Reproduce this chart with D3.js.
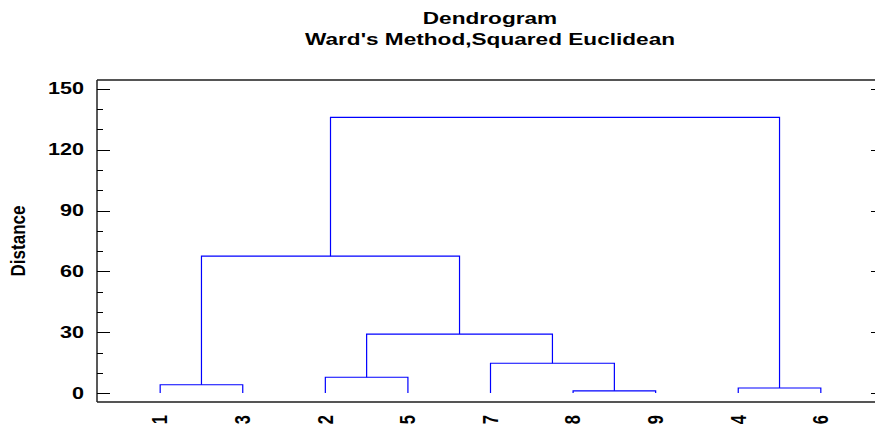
<!DOCTYPE html>
<html><head><meta charset="utf-8">
<script src="https://cdn.jsdelivr.net/npm/d3@7"></script>
<style>
body{margin:0;background:#fff;}
text{font-family:"Liberation Sans",Arial,sans-serif;font-weight:bold;fill:#000;}
</style></head>
<body><svg id="c" width="875" height="425"></svg>
<script>
const titleLines = ["Dendrogram", "Ward's Method,Squared Euclidean"];
const yLabel = "Distance";
const leaves = ["1","3","2","5","7","8","9","4","6"];
// merges: [childA, childB, height]; "mN" refers to merge index N
const merges = [
  ["1","3",4.1],
  ["2","5",7.8],
  ["8","9",1.1],
  ["7","m2",14.7],
  ["m1","m3",29.1],
  ["m0","m4",67.5],
  ["4","6",2.5],
  ["m5","m6",136]
];
const yTicks = [0,30,60,90,120,150];
const yMinor = [10,20,40,50,70,80,100,110,130,140];

const svg = d3.select("#c");
const L = 97, R = 884, T = 80, B = 402;
const x = d3.scalePoint().domain(leaves).range([L, R]).padding(0.765);
const y = d3.scaleLinear().domain([-4.4, 154.4]).range([B, T]);

// titles
svg.append("text").attr("transform","translate(490,24) scale(1.33,1)")
  .attr("text-anchor","middle").style("font-size","17px").text(titleLines[0]);
svg.append("text").attr("transform","translate(490,45) scale(1.33,1)")
  .attr("text-anchor","middle").style("font-size","17px").text(titleLines[1]);

// frame
svg.append("line").attr("x1",L).attr("x2",R).attr("y1",T).attr("y2",T).attr("stroke","#555").attr("stroke-width",2);
svg.append("line").attr("x1",L).attr("x2",R).attr("y1",B).attr("y2",B).attr("stroke","#555").attr("stroke-width",2);
svg.append("line").attr("x1",L).attr("x2",L).attr("y1",T).attr("y2",B).attr("stroke","#222").attr("stroke-width",1.5);
svg.append("line").attr("x1",R).attr("x2",R).attr("y1",T).attr("y2",B).attr("stroke","#222").attr("stroke-width",1.5);

// y ticks
yTicks.forEach(v => {
  const yy = Math.round(y(v)) + 0.5;
  svg.append("line").attr("x1",L).attr("x2",L+13).attr("y1",yy).attr("y2",yy).attr("stroke","#000");
  svg.append("line").attr("x1",R-13).attr("x2",R).attr("y1",yy).attr("y2",yy).attr("stroke","#000");
  svg.append("text").attr("transform",`translate(84,${y(v)}) scale(1.35,1)`)
    .attr("text-anchor","end").attr("dominant-baseline","central")
    .style("font-size","16px").text(v);
});
yMinor.forEach(v => {
  const yy = Math.round(y(v)) + 0.5;
  svg.append("line").attr("x1",L).attr("x2",L+6).attr("y1",yy).attr("y2",yy).attr("stroke","#000");
  svg.append("line").attr("x1",R-6).attr("x2",R).attr("y1",yy).attr("y2",yy).attr("stroke","#000");
});

// y label
svg.append("text").attr("transform","translate(18,241) scale(1.22,1) rotate(-90)")
  .attr("text-anchor","middle").attr("dominant-baseline","central")
  .style("font-size","17px").text(yLabel);

// x labels
leaves.forEach(l => {
  svg.append("text").attr("transform",`translate(${x(l)},415) scale(1.3,1) rotate(-90)`)
    .attr("text-anchor","end").attr("dominant-baseline","central")
    .style("font-size","16.5px").text(l);
});

// dendrogram
const nodes = {};
leaves.forEach(l => nodes[l] = {x: x(l), h: 0});
const g = svg.append("g").attr("stroke","#0000ff").attr("stroke-width",1.2).attr("fill","none");
merges.forEach((m, i) => {
  const a = nodes[m[0]], b = nodes[m[1]], h = m[2];
  const yh = y(h);
  g.append("path").attr("d",
    `M${a.x},${y(a.h)}V${yh}H${b.x}V${y(b.h)}`);
  nodes["m"+i] = {x: (a.x + b.x)/2, h: h};
});
</script></body></html>
